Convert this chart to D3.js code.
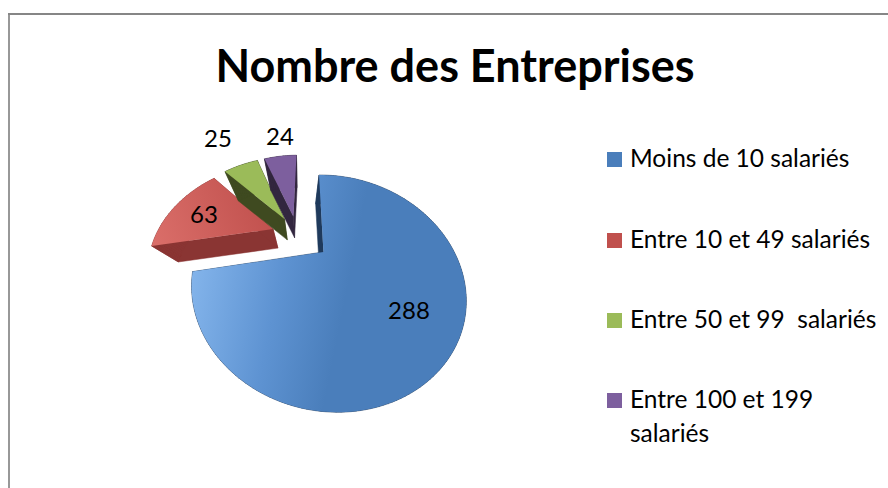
<!DOCTYPE html>
<html><head><meta charset="utf-8">
<script src="https://cdn.jsdelivr.net/npm/d3@7"></script>
<style>html,body{margin:0;padding:0;background:#fff;overflow:hidden}svg{display:block}text{font-family:Lato,"Open Sans",sans-serif;fill:#000;white-space:pre}</style>
</head><body><svg id="c" width="888" height="488"></svg>
<script>
const categories=["Moins de 10 salariés","Entre 10 et 49 salariés","Entre 50 et 99  salariés","Entre 100 et 199"];
const values=[288,63,25,24];
const explode=[0.27,0.22,0.22,0.22];
const topColors=["#4A7EBB","#C0504D","#9BBB59","#7D5F9E"];
const sideColors=["#1F3A5C","#8A3533","#3F4A20","#32263F"];
const svg=d3.select("#c");
const C=[297.4,235],VP=[300,335],depth=0.18;
const a=120,b=3,p=0.3,q=-92,g=-0.02,h=0.33;
function project(u,v){const w=1+g*u+h*v;return [C[0]+(a*u+b*v)/w,C[1]+(p*u+q*v)/w];}
function lower(P){return [P[0]+depth*(VP[0]-P[0]),P[1]+depth*(VP[1]-P[1])];}
const pie=d3.pie().sort(null).value(d=>d);
const arcs=pie(values);
const line=d3.line().curve(d3.curveLinear);
const defs=svg.append("defs");
const gr=defs.append("linearGradient").attr("id","blueG").attr("gradientUnits","userSpaceOnUse")
 .attr("x1",195).attr("y1",270).attr("x2",345).attr("y2",300);
gr.append("stop").attr("offset",0).attr("stop-color","#82B3EA");
gr.append("stop").attr("offset",0.55).attr("stop-color","#5E93D2");
gr.append("stop").attr("offset",1).attr("stop-color","#4A7EBB");
const rg=defs.append("linearGradient").attr("id","redG").attr("gradientUnits","userSpaceOnUse")
 .attr("x1",150).attr("y1",245).attr("x2",270).attr("y2",200);
rg.append("stop").attr("offset",0).attr("stop-color","#DB6F6A");
rg.append("stop").attr("offset",1).attr("stop-color","#C0504D");
const fills=["url(#blueG)","url(#redG)",topColors[2],topColors[3]];
// frame
svg.append("line").attr("x1",9).attr("x2",9).attr("y1",13).attr("y2",488).attr("stroke","#989898").attr("stroke-width",2);
svg.append("line").attr("x1",8).attr("x2",888).attr("y1",14).attr("y2",14).attr("stroke","#868686").attr("stroke-width",2);
// pie
arcs.forEach((d,i)=>{
 const mid=(d.startAngle+d.endAngle)/2,ox=explode[i]*Math.sin(mid),oy=explode[i]*Math.cos(mid);
 const n=Math.max(8,Math.round((d.endAngle-d.startAngle)*40));
 const ring=d3.range(n+1).map(k=>{const t=d.startAngle+(d.endAngle-d.startAngle)*k/n;return project(ox+Math.sin(t),oy+Math.cos(t));});
 const apex=project(ox,oy);
 const outline=[apex,...ring];
 const g0=svg.append("g");
 outline.forEach((P,k)=>{const Q=outline[(k+1)%outline.length];
  g0.append("path").attr("d",line([P,Q,lower(Q),lower(P)])+"Z").attr("fill",sideColors[i]).attr("stroke",sideColors[i]).attr("stroke-width",.5);});
 g0.append("path").attr("d",line(outline)+"Z").attr("fill",fills[i]);
});
// data labels
const labelPos=[[409,310],[204,214],[218,138],[280,136]];
values.forEach((v,i)=>svg.append("text").attr("x",labelPos[i][0]).attr("y",labelPos[i][1]+9).attr("text-anchor","middle").attr("font-size",24).text(v));
// title
svg.append("text").attr("x",455).attr("y",82).attr("text-anchor","middle").attr("font-size",45).attr("font-weight",700).text("Nombre des Entreprises");
// legend
const legendY=[152,233,313,393];
categories.forEach((c,i)=>{
 svg.append("rect").attr("x",607).attr("y",legendY[i]).attr("width",15).attr("height",15).attr("fill",topColors[i]);
 svg.append("text").attr("x",630).attr("y",legendY[i]+15).attr("font-size",24.5).text(c);
});
svg.append("text").attr("x",630).attr("y",442).attr("font-size",24.5).text("salariés");
</script></body></html>
